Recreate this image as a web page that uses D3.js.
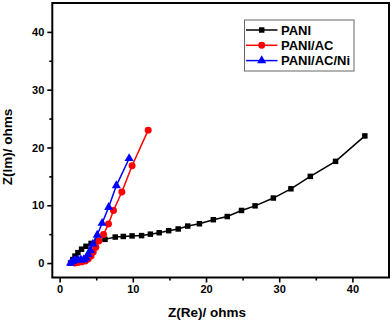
<!DOCTYPE html>
<html><head><meta charset="utf-8">
<script src="https://cdn.jsdelivr.net/npm/d3@7"></script>
<style>body{margin:0;background:#fff}svg{display:block;font-family:"Liberation Sans",Arial,sans-serif;font-weight:bold}</style>
</head><body><svg id="c" width="392" height="322"></svg>
<script>
const seriesNames = ["PANI", "PANI/AC", "PANI/AC/Ni"];
const seriesColors = ["#000000", "#ff0000", "#0000ff"];
const seriesShapes = ["square", "circle", "triangle"];
const paniRe = [1.5, 1.8, 2.1, 2.5, 3.0, 3.6, 4.3, 5.1, 6.2, 7.6, 8.7, 9.9, 11.2, 12.4, 13.6, 14.9, 16.2, 17.5, 19.1, 21.0, 22.9, 24.85, 26.7, 29.2, 31.6, 34.25, 37.7, 41.7];
const paniIm = [0, 0.6, 1.2, 1.8, 2.4, 2.9, 3.4, 3.8, 4.1, 4.5, 4.6, 4.7, 4.75, 5.0, 5.25, 5.6, 5.9, 6.4, 6.8, 7.5, 8.05, 9.1, 9.9, 11.25, 12.85, 15.0, 17.6, 22.0];
const acRe = [2.1, 2.5, 3.0, 3.5, 3.9, 4.3, 4.6, 4.95, 5.36, 6.0, 6.68, 7.36, 8.5, 9.9, 12.1];
const acIm = [0.0, 0.1, 0.2, 0.35, 0.7, 1.2, 1.9, 2.75, 3.8, 4.95, 6.75, 9.1, 12.3, 16.85, 23.0];
const niRe = [1.5, 1.8, 2.1, 2.5, 2.9, 3.3, 3.6, 3.9, 4.2, 4.55, 5.14, 5.8, 6.7, 7.75, 9.5];
const niIm = [0, 0.3, 0.5, 0.6, 0.55, 0.6, 0.9, 1.5, 2.2, 3.3, 4.85, 6.9, 9.65, 13.4, 18.1];
const xTicks = [0, 10, 20, 30, 40];
const yTicks = [0, 10, 20, 30, 40];
const xMinor = [5, 15, 25, 35];
const yMinor = [5, 15, 25, 35];

const series = [
  {name: seriesNames[0], color: seriesColors[0], shape: seriesShapes[0], pts: paniRe.map((v,i)=>[v, paniIm[i]])},
  {name: seriesNames[1], color: seriesColors[1], shape: seriesShapes[1], pts: acRe.map((v,i)=>[v, acIm[i]])},
  {name: seriesNames[2], color: seriesColors[2], shape: seriesShapes[2], pts: niRe.map((v,i)=>[v, niIm[i]])}
];

const svg = d3.select("#c");
const L = 52.3, R = 389, T = 3, B = 277.5;
const x = d3.scaleLinear().domain([-1, 45]).range([L, R]);
const y = d3.scaleLinear().domain([-2.5, 45]).range([B, T]);

const gx = svg.append("g").attr("transform", `translate(0,${B})`)
  .call(d3.axisBottom(x).tickValues(xTicks).tickSize(5).tickPadding(3).tickFormat(d3.format("d")));
const gxm = svg.append("g").attr("transform", `translate(0,${B})`)
  .call(d3.axisBottom(x).tickValues(xMinor).tickSize(3).tickFormat(""));
const gy = svg.append("g").attr("transform", `translate(${L},0)`)
  .call(d3.axisLeft(y).tickValues(yTicks).tickSize(5).tickPadding(3).tickFormat(d3.format("d")));
const gym = svg.append("g").attr("transform", `translate(${L},0)`)
  .call(d3.axisLeft(y).tickValues(yMinor).tickSize(3).tickFormat(""));
[gx, gxm, gy, gym].forEach(g => {
  g.select(".domain").remove();
  g.selectAll(".tick line").attr("stroke", "#000").attr("stroke-width", 1.6);
  g.selectAll("text").attr("font-size", 11).attr("font-weight", "bold").attr("fill", "#000")
    .attr("font-family", '"Liberation Sans",Arial,sans-serif');
});

svg.append("rect").attr("x", L).attr("y", T).attr("width", R - L).attr("height", B - T)
  .attr("fill", "none").attr("stroke", "#000").attr("stroke-width", 2);

svg.append("text").attr("x", 207).attr("y", 317).attr("text-anchor", "middle")
  .attr("font-size", 13.5).text("Z(Re)/ ohms");
svg.append("text").attr("transform", "translate(12,147) rotate(-90)").attr("text-anchor", "middle")
  .attr("font-size", 13.5).text("Z(Im)/ ohms");

const line = d3.line().x(d => x(d[0])).y(d => y(d[1]));
const symType = {square: d3.symbolSquare, circle: d3.symbolCircle, triangle: d3.symbolTriangle};
const symSize = {square: 30, circle: 38, triangle: 36};

const plot = svg.append("g");
series.forEach(s => {
  const g = plot.append("g");
  g.append("path").attr("d", line(s.pts)).attr("fill", "none").attr("stroke", s.color).attr("stroke-width", 1.5);
  g.selectAll("path.m").data(s.pts).join("path").attr("class", "m")
    .attr("transform", d => `translate(${x(d[0])},${y(d[1])})`)
    .attr("d", d3.symbol().type(symType[s.shape]).size(symSize[s.shape])())
    .attr("fill", s.color);
});

const lg = svg.append("g");
lg.append("rect").attr("x", 244.5).attr("y", 20).attr("width", 109.5).attr("height", 51)
  .attr("fill", "#fff").attr("stroke", "#666").attr("stroke-width", 1);
series.forEach((s, i) => {
  const yy = 30 + i * 15.3;
  lg.append("line").attr("x1", 246).attr("x2", 277.5).attr("y1", yy).attr("y2", yy)
    .attr("stroke", s.color).attr("stroke-width", 1.5);
  lg.append("path").attr("transform", `translate(261.7,${yy})`)
    .attr("d", d3.symbol().type(symType[s.shape]).size(symSize[s.shape])()).attr("fill", s.color);
  lg.append("text").attr("x", 281).attr("y", yy + 4.6).attr("font-size", 13).text(s.name);
});
</script></body></html>
